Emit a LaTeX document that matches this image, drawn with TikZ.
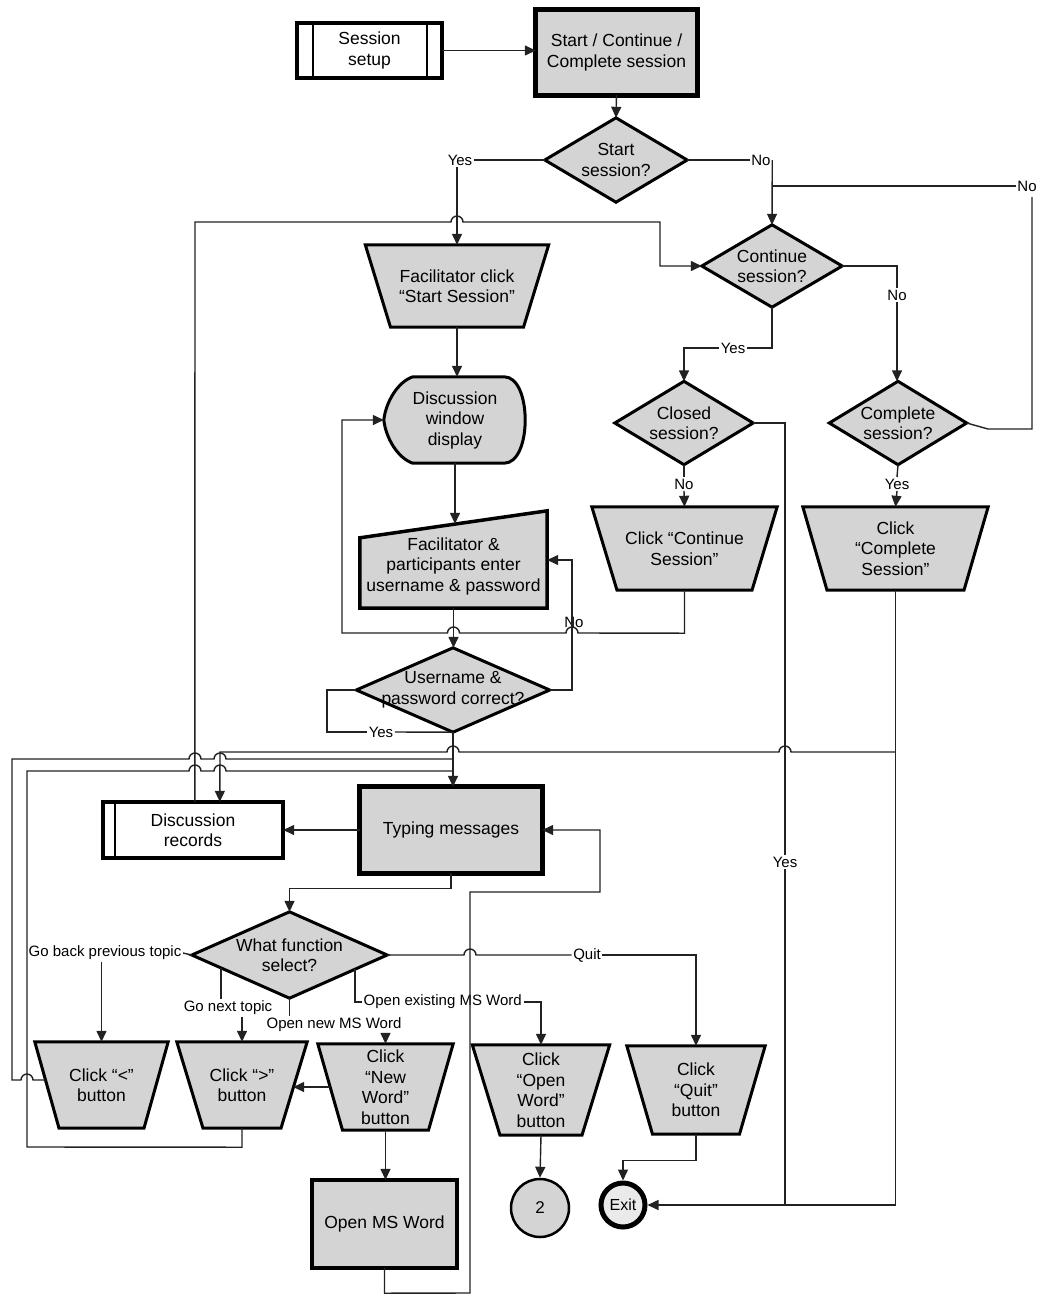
\documentclass[tikz,border=0pt]{standalone}
\usepackage{fontspec}
\setmainfont{Liberation Sans}
\usetikzlibrary{arrows.meta,calc}
\pgfdeclarelayer{bg}
\pgfsetlayers{bg,main}
\definecolor{shpfill}{HTML}{D4D4D4}
\definecolor{lncol}{HTML}{222222}
\tikzset{
  ntext/.style={inner sep=0pt, align=center, font=\fontsize{17.5}{20.5}\selectfont},
  lbl/.style={inner sep=1.5pt, font=\fontsize{15}{18}\selectfont},
  shp/.style={fill=shpfill, draw=black, line width=3pt, line join=miter},
  con/.style={draw=lncol, line width=1.4pt},
  arr/.style={con, -{Triangle[length=11pt,width=10pt]}},
}
\newcommand\mkdiam[1]{\begin{pgfonlayer}{bg}\filldraw[shp] (#1.north) -- (#1.east) -- (#1.south) -- (#1.west) -- cycle;\end{pgfonlayer}}
\newcommand\mktrap[2]{\begin{pgfonlayer}{bg}\filldraw[shp] (#1.north west) -- (#1.north east) -- ($(#1.south)+(#2/2,0)$) -- ($(#1.south)-(#2/2,0)$) -- cycle;\end{pgfonlayer}}
\begin{document}
\begin{tikzpicture}[x=1pt,y=-1pt]
\begin{pgfonlayer}{bg}
\fill[white] (0,0) rectangle (1040,1294);
\end{pgfonlayer}
\useasboundingbox (0,0) rectangle (1040,1294);

% ---------- shapes ----------
\node[ntext, minimum width=145, minimum height=55] (ss) at (369.5,50.5) {Session\\setup};
\begin{pgfonlayer}{bg}
\filldraw[fill=white, draw=black, line width=3.5pt] (ss.north west) rectangle (ss.south east);
\draw[line width=2.5pt] ($(ss.north west)+(16,0)$) -- ($(ss.south west)+(16,0)$);
\draw[line width=2.5pt] ($(ss.north east)+(-15,0)$) -- ($(ss.south east)+(-15,0)$);
\end{pgfonlayer}

\node[ntext, minimum width=161, minimum height=85] (scc) at (616.5,52.5) {Start / Continue /\\Complete session};
\begin{pgfonlayer}{bg}\filldraw[shp, line width=5pt] (scc.north west) rectangle (scc.south east);\end{pgfonlayer}

\node[ntext, minimum width=142, minimum height=84] (d1) at (616,160) {Start\\session?};
\mkdiam{d1}
\node[ntext, minimum width=140, minimum height=82] (d2) at (772,266) {Continue\\session?};
\mkdiam{d2}

\node[ntext, minimum width=183, minimum height=82] (fcs) at (457,286) {Facilitator click\\“Start Session”};
\mktrap{fcs}{133}

\node[ntext, minimum width=142, minimum height=86] (dwd) at (455,420) {Discussion\\window\\display};
\begin{pgfonlayer}{bg}
\filldraw[shp] ($(dwd.north west)+(29,0)$) -- ($(dwd.north east)+(-22,0)$)
  .. controls ($(dwd.north east)+(6,0)$) and ($(dwd.south east)+(6,0)$) .. ($(dwd.south east)+(-22,0)$)
  -- ($(dwd.south west)+(29,0)$)
  .. controls ($(dwd.south west)+(14,-5)$) and ($(dwd.west)+(2,18)$) .. (dwd.west)
  .. controls ($(dwd.west)+(2,-18)$) and ($(dwd.north west)+(14,5)$) .. cycle;
\end{pgfonlayer}

\node[ntext, minimum width=187, minimum height=84] (mi) at (453.5,566) {Facilitator \&\\participants enter\\username \& password};
\begin{pgfonlayer}{bg}
\filldraw[shp, line width=3.5pt] (mi.south west) -- ($(mi.north west)+(0,14)$) -- ($(mi.north east)+(0,-13)$) -- (mi.south east) -- cycle;
\end{pgfonlayer}

\node[ntext, minimum width=193, minimum height=84] (d3) at (453,690) {Username \&\\password correct?};
\mkdiam{d3}

\node[ntext, minimum width=138, minimum height=83] (d4) at (684,423) {Closed\\session?};
\mkdiam{d4}
\node[ntext, minimum width=137, minimum height=83] (d5) at (898,423) {Complete\\session?};
\mkdiam{d5}

\node[ntext, minimum width=185, minimum height=83] (ccs) at (684.5,548.5) {Click “Continue\\Session”};
\mktrap{ccs}{135}
\node[ntext, minimum width=185, minimum height=83] (ccm) at (895.5,548.5) {Click\\“Complete\\Session”};
\mktrap{ccm}{137}

\node[ntext, minimum width=180, minimum height=56] (dr) at (193,830) {Discussion\\records};
\begin{pgfonlayer}{bg}
\filldraw[fill=white, draw=black, line width=3.5pt] (dr.north west) rectangle (dr.south east);
\draw[line width=2.5pt] ($(dr.north west)+(12,0)$) -- ($(dr.south west)+(12,0)$);
\end{pgfonlayer}

\node[ntext, minimum width=182, minimum height=86] (tm) at (451,830) {Typing messages};
\begin{pgfonlayer}{bg}\filldraw[shp, line width=5pt] (tm.north west) rectangle (tm.south east);\end{pgfonlayer}

\node[ntext, minimum width=195, minimum height=86] (d6) at (289.5,955) {What function\\select?};
\mkdiam{d6}

\node[ntext, minimum width=133, minimum height=86] (b1) at (101.5,1085) {Click “<”\\button};
\mktrap{b1}{85}
\node[ntext, minimum width=130, minimum height=86] (b2) at (242,1085) {Click “>”\\button};
\mktrap{b2}{78}
\node[ntext, minimum width=135, minimum height=86] (b3) at (385.5,1087) {Click\\“New\\Word”\\button};
\mktrap{b3}{86}
\node[ntext, minimum width=137, minimum height=90] (b4) at (541,1090) {Click\\“Open\\Word”\\button};
\mktrap{b4}{82}
\node[ntext, minimum width=138, minimum height=88] (b5) at (696,1090) {Click\\“Quit”\\button};
\mktrap{b5}{87}

\node[ntext, minimum width=145, minimum height=88] (omw) at (384.5,1224) {Open MS Word};
\begin{pgfonlayer}{bg}\filldraw[shp, line width=4.5pt] (omw.north west) rectangle (omw.south east);\end{pgfonlayer}

\node[circle, draw=black, fill=shpfill, line width=2.5pt, minimum size=58, inner sep=0pt, font=\fontsize{17}{20}\selectfont] (c2) at (540,1208) {2};
\node[circle, draw=black, fill=shpfill!50, line width=5pt, minimum size=44, inner sep=0pt, font=\fontsize{16}{19}\selectfont] (ex) at (623,1205) {Exit};

% ---------- labels ----------
\node[lbl] (yes1) at (460,160) {Yes};
\node[lbl] (no1) at (761,160) {No};
\node[lbl] (no3) at (1027,186) {No};
\node[lbl] (yes4) at (733,348) {Yes};
\node[lbl] (no4) at (897,295) {No};
\node[lbl] (no5) at (684,484) {No};
\node[lbl] (yes5) at (897,484) {Yes};
\node[lbl] (no2) at (574,622) {No};
\node[lbl] (yes2) at (381,732) {Yes};
\node[lbl] (yes3) at (785,862) {Yes};
\node[lbl] (gb) at (105,953) {Go back previous topic};
\node[lbl] (gn) at (228,1008) {Go next topic};
\node[lbl] (onw) at (334,1025) {Open new MS Word};
\node[lbl, anchor=west] (oe) at (362,1002) {Open existing MS Word};
\node[lbl] (qt) at (587,955) {Quit};

% ---------- connectors ----------
\draw[arr] (ss.east) -- (ss.east -| scc.west);
\draw[arr] (scc.south) -- (d1.north);
\draw[con] (d1.west) -- (yes1.east);
\draw[arr] (yes1.south -| fcs.north) -- (fcs.north);
\draw[con] (d1.east) -- (no1.west);
\draw[arr] (no1.east) -- (d2.north);
% complete session? No loop
\draw[con] (d5.east) -- (988,429) -- (1032,429) -- (1032,197);
\draw[con] (no3.west) -- (no3.west -| d2.north);
% discussion records -> continue session
\coordinate (v1) at ($(dr.north west)+(92,0)$);
\draw[arr] (v1) -- (195,222) -- (451,222) arc[start angle=180,end angle=360,radius=6] -- (660,222) |- (d2.west);
\draw[arr] (fcs.south) -- (fcs.south |- dwd.north);
\draw[arr] (dwd.south) -- (dwd.south |- mi.north);
\draw[arr] (mi.south) -- (mi.south |- d3.north);
% username No
\draw[arr] (d3.east) -| (572,560) -- ($(mi.east)+(0,-6)$);
% click continue -> discussion window
\draw[arr] (ccs.south) -- ($(ccs.south)+(0,43)$) -- (578,633) arc[start angle=0,end angle=-180,radius=6]
  -- (459.5,633) arc[start angle=0,end angle=-180,radius=6] -- (342,633) |- (dwd.west);
% username Yes
\draw[con] (d3.west) -- (327,690) |- (yes2.west);
\draw[con] (yes2.east) -- (d3.south);
\draw[arr] (d3.south) -- (d3.south |- tm.north);
% continue Yes / No
\draw[con] (d2.south) |- (yes4.east);
\draw[arr] (yes4.west) -| (d4.north);
\draw[con] (d2.east) -| (no4.north);
\draw[arr] (no4.south) -- (no4.south |- d5.north);
\draw[con] (d4.south) -- (no5.north);
\draw[arr] (no5.south) -- (ccs.north);
\draw[con] (d5.south) -- (yes5.north);
\draw[arr] (yes5.south) -- (ccm.north);
% closed Yes -> exit
\draw[con] (d4.east) -| (yes3.north);
\draw[con] (yes3.south) -- (yes3.south |- ex.east);
% complete -> exit and -> records
\draw[arr] (ccm.south) -- (ccm.south |- ex.east) -- (ex.east);
\coordinate (jA) at (ccm.south |- 0,752);
\draw[arr] (jA) -- (791,752) arc[start angle=0,end angle=-180,radius=6] -- (459,752)
  arc[start angle=0,end angle=-180,radius=6] -- (220,752) -- ($(dr.north west)+(117,0)$);
% typing messages
\draw[arr] (tm.west) -- (tm.west -| dr.east);
\draw[arr] (tm.south) -- ++(0,15) -| (d6.north);
\draw[arr] (omw.south) -- ++(0,25) -- (470,1293) -- (470,892) -- (600,892) -- (600,830) -- (tm.east);
% function select
\draw[con] (gb.east) -- (d6.west);
\draw[arr] (gb.south -| b1.north) -- (b1.north);
\coordinate (d6ll) at ($(d6.west)!0.3!(d6.south)$);
\draw[con] (d6ll) -- (d6ll |- gn.north);
\draw[arr] (gn.south -| b2.north) -- (b2.north);
\draw[con] (d6.south) -- (d6.south |- onw.north);
\draw[arr] (onw.south -| b3.north) -- (b3.north);
\coordinate (d6lr) at ($(d6.east)!0.33!(d6.south)$);
\draw[con] (d6lr) |- (oe.west);
\draw[arr] (oe.east) -| (b4.north);
\draw[con] (d6.east) -- (464,955) arc[start angle=180,end angle=360,radius=6] -- (qt.west);
\draw[arr] (qt.east) -| (b5.north);
% loops back to typing messages
\coordinate (b1L) at (46,1080);
\draw[con] (b1L) -- (33,1080) arc[start angle=0,end angle=-180,radius=6] -- (12,1080) -- (12,759)
  -- (189,759) arc[start angle=180,end angle=360,radius=6] -- (214,759) arc[start angle=180,end angle=360,radius=6] -- (453,759);
\draw[con] (b2.south) -- ++(0,19) -- (27,1147) -- (27,771)
  -- (189,771) arc[start angle=180,end angle=360,radius=6] -- (214,771) arc[start angle=180,end angle=360,radius=6] -- (453,771);
\draw[arr] ($(b3.west)+(12,0)$) -- ($(b2.east)+(-14,2)$);
\draw[arr] (b3.south) -- (b3.south |- omw.north);
\draw[arr] (b4.south) -- (c2.north);
\draw[arr] (b5.south) -- ++(0,26) -| (ex.north);
\end{tikzpicture}
\end{document}
